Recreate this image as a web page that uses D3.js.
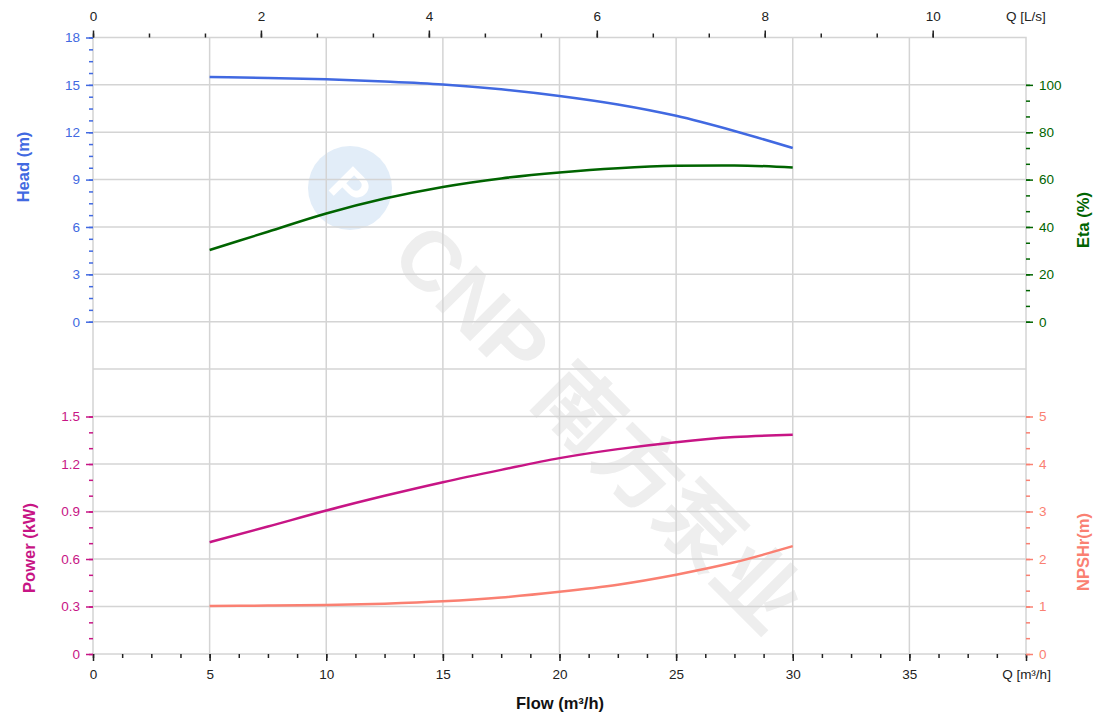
<!DOCTYPE html>
<html>
<head>
<meta charset="utf-8">
<script src="https://cdn.jsdelivr.net/npm/d3@7"></script>
<style>
  html, body { margin: 0; padding: 0; background: #fff; }
  svg { display: block; font-family: "Liberation Sans", Arial, sans-serif; }
</style>
</head>
<body>
<svg id="chart" width="1120" height="718"></svg>
<script>
// ---------- data ----------
const flow = [5, 7.5, 10, 12.5, 15, 17.5, 20, 22.5, 25, 27.5, 30];          // m3/h
const head = [15.50, 15.44, 15.36, 15.22, 15.03, 14.72, 14.30, 13.76, 13.04, 12.08, 11.00]; // m
const eta = [30.3, 38.0, 45.7, 52.0, 56.9, 60.5, 63.0, 64.8, 65.8, 66.0, 65.1];  // %
const power = [0.706, 0.805, 0.906, 0.999, 1.085, 1.163, 1.237, 1.294, 1.338, 1.370, 1.384]; // kW
const npsh = [1.01, 1.02, 1.03, 1.06, 1.11, 1.19, 1.31, 1.46, 1.67, 1.93, 2.27]; // m

const flowTicks = [0, 5, 10, 15, 20, 25, 30, 35, 40];
const lsTicks = [0, 2, 4, 6, 8, 10];
const headTicks = [0, 3, 6, 9, 12, 15, 18];
const etaTicks = [0, 20, 40, 60, 80, 100];
const powerTicks = [0, 0.3, 0.6, 0.9, 1.2, 1.5];
const npshTicks = [0, 1, 2, 3, 4, 5];

// ---------- layout ----------
const L = 93, R = 1026, T = 37.5, MID = 369, B = 654;
const svg = d3.select("#chart");

const x = d3.scaleLinear().domain([0, 40]).range([L, R]);
const xLs = d3.scaleLinear().domain([0, 40 / 3.6]).range([L, R]);
const yHead = d3.scaleLinear().domain([0, 18]).range([321.7, T]);
const yEta = d3.scaleLinear().domain([0, 120]).range([321.7, T]);
const yPow = d3.scaleLinear().domain([0, 1.8]).range([B, MID]);
const yNpsh = d3.scaleLinear().domain([0, 6]).range([B, MID]);

const C_HEAD = "#4169E1", C_ETA = "#006400", C_POW = "#C71585", C_NPSH = "#FA8072";
const GRID = "#d4d4d4";

function range(a, b, s) { const r = []; for (let v = a; v <= b + 1e-9; v += s) r.push(+v.toFixed(6)); return r; }

// ---------- watermark ----------
const wm = svg.append("g").attr("transform", "translate(350,188) rotate(45)");
wm.append("circle").attr("r", 42).attr("fill", "#e2edf8");
wm.append("text").attr("x", 0).attr("y", 17).attr("text-anchor", "middle")
  .attr("font-size", 50).attr("font-weight", "bold").attr("fill", "#fff").text("P");
svg.append("text")
  .attr("transform", "translate(598,428) rotate(45)")
  .attr("text-anchor", "middle").attr("dominant-baseline", "central")
  .attr("font-size", 84).attr("font-weight", "bold").attr("fill", "#eeeeee")
  .attr("font-family", "'Liberation Sans','Noto Sans CJK SC',sans-serif")
  .text("CNP 南方泵业");

// ---------- grid ----------
const grid = svg.append("g").attr("stroke", GRID).attr("stroke-width", 1.5);
[5, 10, 15, 20, 25, 30, 35].forEach(v => grid.append("line")
  .attr("x1", x(v)).attr("x2", x(v)).attr("y1", T).attr("y2", B));
[0, 3, 6, 9, 12, 15].forEach(v => grid.append("line")
  .attr("x1", L).attr("x2", R).attr("y1", yHead(v)).attr("y2", yHead(v)));
[0.3, 0.6, 0.9, 1.2, 1.5].forEach(v => grid.append("line")
  .attr("x1", L).attr("x2", R).attr("y1", yPow(v)).attr("y2", yPow(v)));
grid.append("line").attr("x1", L).attr("x2", R).attr("y1", MID).attr("y2", MID);
svg.append("rect").attr("x", L).attr("y", T).attr("width", R - L).attr("height", B - T)
  .attr("fill", "none").attr("stroke", GRID).attr("stroke-width", 1.5);

// ---------- axes ----------
function styleAxis(g, color, size) {
  g.select(".domain").remove();
  g.selectAll("line").attr("stroke", color).attr("stroke-width", 1.5);
  g.selectAll("text").attr("fill", color).attr("font-size", size || 13.5)
    .attr("font-family", "'Liberation Sans', Arial, sans-serif");
}
function minor(axisFn, scale, vals, transform, color) {
  const g = svg.append("g").attr("transform", transform)
    .call(axisFn(scale).tickValues(vals).tickSize(4).tickFormat(""));
  styleAxis(g, color);
}

// bottom flow axis
minor(d3.axisBottom, x, range(0, 40, 1.25), `translate(0,${B})`, "#222");
const gxb = svg.append("g").attr("transform", `translate(0,${B})`)
  .call(d3.axisBottom(x).tickValues(flowTicks).tickSize(7).tickPadding(8)
    .tickFormat(d => d === 40 ? "Q [m³/h]" : d));
styleAxis(gxb, "#222");

// top L/s axis
minor(d3.axisTop, xLs, range(0, 10, 2 / 3), `translate(0,${T})`, "#222");
const gxt = svg.append("g").attr("transform", `translate(0,${T})`)
  .call(d3.axisTop(xLs).tickValues(lsTicks).tickSize(7).tickPadding(10));
styleAxis(gxt, "#222");
svg.append("text").attr("x", xLs(40 / 3.6)).attr("y", 21).attr("text-anchor", "middle")
  .attr("font-size", 13.5).attr("fill", "#222").text("Q [L/s]");

// head axis (left, top)
minor(d3.axisLeft, yHead, range(0, 18, 0.75), `translate(${L},0)`, C_HEAD);
const gh = svg.append("g").attr("transform", `translate(${L},0)`)
  .call(d3.axisLeft(yHead).tickValues(headTicks).tickSize(7).tickPadding(6));
styleAxis(gh, C_HEAD);

// eta axis (right, top)
minor(d3.axisRight, yEta, range(0, 100, 20 / 3), `translate(${R},0)`, C_ETA);
const ge = svg.append("g").attr("transform", `translate(${R},0)`)
  .call(d3.axisRight(yEta).tickValues(etaTicks).tickSize(7).tickPadding(6));
styleAxis(ge, C_ETA);

// power axis (left, bottom)
minor(d3.axisLeft, yPow, range(0, 1.5, 0.1), `translate(${L},0)`, C_POW);
const gp = svg.append("g").attr("transform", `translate(${L},0)`)
  .call(d3.axisLeft(yPow).tickValues(powerTicks).tickSize(7).tickPadding(6)
    .tickFormat(d => d === 0 ? "0" : d3.format(".1f")(d)));
styleAxis(gp, C_POW);

// npsh axis (right, bottom)
minor(d3.axisRight, yNpsh, range(0, 5, 1 / 3), `translate(${R},0)`, C_NPSH);
const gn = svg.append("g").attr("transform", `translate(${R},0)`)
  .call(d3.axisRight(yNpsh).tickValues(npshTicks).tickSize(7).tickPadding(6)
    .tickFormat(d3.format("d")));
styleAxis(gn, C_NPSH);

// ---------- axis titles ----------
function title(txt, tx, ty, rot, color) {
  svg.append("text").attr("transform", `translate(${tx},${ty}) rotate(${rot})`)
    .attr("text-anchor", "middle").attr("dominant-baseline", "central")
    .attr("font-size", 16.5).attr("font-weight", "bold").attr("fill", color).text(txt);
}
title("Head (m)", 23, 167, -90, C_HEAD);
title("Eta (%)", 1083, 220, -90, C_ETA);
title("Power (kW)", 29, 548, -90, C_POW);
title("NPSHr(m)", 1083, 552, -90, C_NPSH);
svg.append("text").attr("x", 560).attr("y", 709).attr("text-anchor", "middle")
  .attr("font-size", 16.5).attr("font-weight", "bold").attr("fill", "#111").text("Flow (m³/h)");

// ---------- curves ----------
function curve(vals, yScale, color) {
  const line = d3.line().x((d, i) => x(flow[i])).y(d => yScale(d)).curve(d3.curveMonotoneX);
  svg.append("path").datum(vals).attr("d", line).attr("fill", "none")
    .attr("stroke", color).attr("stroke-width", 2.5).attr("stroke-linecap", "butt");
}
curve(head, yHead, C_HEAD);
curve(eta, yEta, C_ETA);
curve(power, yPow, C_POW);
curve(npsh, yNpsh, C_NPSH);
</script>
</body>
</html>
